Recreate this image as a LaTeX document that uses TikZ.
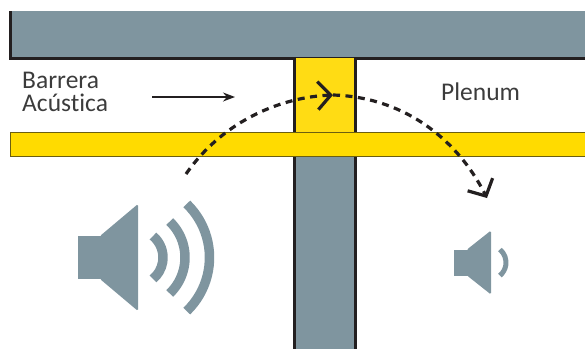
\documentclass[tikz,border=0pt]{standalone}
\usepackage{fontspec}
\setmainfont[Ligatures=NoCommon]{Carlito}
\usepackage{xcolor}
\usetikzlibrary{arrows.meta,positioning}
\definecolor{slab}{HTML}{7F959F}
\definecolor{wallline}{HTML}{231F20}
\definecolor{stripfill}{HTML}{FFDB00}
\definecolor{barrierfill}{HTML}{FFDC14}
\definecolor{stripline}{HTML}{6B5F10}
\definecolor{labelgray}{HTML}{3C3C3C}
\tikzset{
  wallline/.style={draw=wallline,line width=3pt},
  wave/.style={slab,line width=9.5pt},
  speakerbody/.style={fill=slab,rounded corners=1.5pt},
  label/.style={inner sep=0pt,text=labelgray,font=\fontsize{25.5}{22.5}\selectfont,align=left},
  soundpath/.style={draw=wallline,line width=3.2pt,dash pattern=on 7pt off 5.5pt},
}
\begin{document}
\begin{tikzpicture}[x=1pt,y=-1pt]
\useasboundingbox (0,0) rectangle (585,349);

\fill[slab] (10,11) rectangle (585,58);
\draw[wallline] (10.5,11) -- (10.5,58) -- (585,58);

\fill[barrierfill] (294,58) rectangle (355,132);
\draw[wallline] (294.5,58) -- (294.5,132) (355,58) -- (355,132);

\fill[slab] (294,157) rectangle (355,349);
\draw[wallline] (294.5,157) -- (294.5,349) (355,157) -- (355,349);

\draw[draw=stripline,fill=stripfill,line width=1pt] (10.5,132.5) rectangle (586,156.5);

\node[label,anchor=north west] (barrera) at (22,72) {Barrera\\Acústica};
\node[label,anchor=base west] (plenum) at (441,100) {Plenum};

\coordinate (arrowstart) at (152,97);
\coordinate (arrowend) at (235,97);
\draw[wallline,line width=1.3pt,-{Stealth[length=12pt,width=9pt]}] (arrowstart) -- (arrowend);

\coordinate (soundstart) at (186,174);
\coordinate (soundmid) at (333,95);
\coordinate (soundend) at (487,198);
\draw[soundpath,-{Straight Barb[length=13pt,width=28pt,line width=3.2pt]}] (soundstart) .. controls (225,118) and (285,97) .. (soundmid);
\draw[soundpath,-{Straight Barb[length=13pt,width=28pt,line width=3.2pt]}] (soundmid) .. controls (400,97) and (455,135) .. (soundend);

% big speaker
\fill[slab] (78,236) rectangle (101,279);
\fill[speakerbody] (100,236) -- (138,204) -- (138,311) -- (100,279) -- cycle;
\draw[wave] (135,257.5) ++(-50:28) arc (-50:50:28);
\draw[wave] (135,257.5) ++(-46:50) arc (-46:46:50);
\draw[wave] (135,257.5) ++(-46:74.5) arc (-46:46:74.5);

% small speaker
\fill[slab] (454,249.5) rectangle (468,275.5);
\fill[speakerbody] (467,249.5) -- (491,230.5) -- (491,294.5) -- (467,275.5) -- cycle;
\draw[wave,line width=5pt] (489,262.5) ++(-50:17) arc (-50:50:17);
\end{tikzpicture}
\end{document}
